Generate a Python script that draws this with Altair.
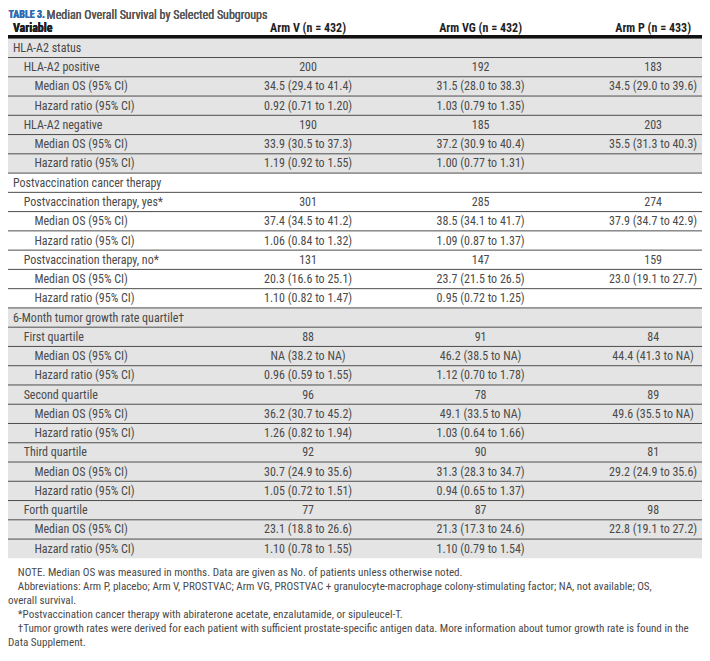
import altair as alt
import pandas as pd

# ---------------- data ----------------
title_label = "TABLE 3."
title_text = "Median Overall Survival by Selected Subgroups"

header_variable = "Variable"
arm_keys = ["V", "VG", "P"]
arm_headers = ["Arm V (n = 432)", "Arm VG (n = 432)", "Arm P (n = 433)"]

variables = [
    "HLA-A2 status",
    "HLA-A2 positive", "Median OS (95% CI)", "Hazard ratio (95% CI)",
    "HLA-A2 negative", "Median OS (95% CI)", "Hazard ratio (95% CI)",
    "Postvaccination cancer therapy",
    "Postvaccination therapy, yes*", "Median OS (95% CI)", "Hazard ratio (95% CI)",
    "Postvaccination therapy, no*", "Median OS (95% CI)", "Hazard ratio (95% CI)",
    "6-Month tumor growth rate quartile\u2020",
    "First quartile", "Median OS (95% CI)", "Hazard ratio (95% CI)",
    "Second quartile", "Median OS (95% CI)", "Hazard ratio (95% CI)",
    "Third quartile", "Median OS (95% CI)", "Hazard ratio (95% CI)",
    "Forth quartile", "Median OS (95% CI)", "Hazard ratio (95% CI)",
]
levels = [0, 1, 2, 2, 1, 2, 2,
          0, 1, 2, 2, 1, 2, 2,
          0, 1, 2, 2, 1, 2, 2, 1, 2, 2, 1, 2, 2]
shades = ["gray"] * 7 + ["white"] * 7 + ["gray"] * 13

arm_v = ["", "200", "34.5 (29.4 to 41.4)", "0.92 (0.71 to 1.20)",
         "190", "33.9 (30.5 to 37.3)", "1.19 (0.92 to 1.55)",
         "", "301", "37.4 (34.5 to 41.2)", "1.06 (0.84 to 1.32)",
         "131", "20.3 (16.6 to 25.1)", "1.10 (0.82 to 1.47)",
         "", "88", "NA (38.2 to NA)", "0.96 (0.59 to 1.55)",
         "96", "36.2 (30.7 to 45.2)", "1.26 (0.82 to 1.94)",
         "92", "30.7 (24.9 to 35.6)", "1.05 (0.72 to 1.51)",
         "77", "23.1 (18.8 to 26.6)", "1.10 (0.78 to 1.55)"]
arm_vg = ["", "192", "31.5 (28.0 to 38.3)", "1.03 (0.79 to 1.35)",
          "185", "37.2 (30.9 to 40.4)", "1.00 (0.77 to 1.31)",
          "", "285", "38.5 (34.1 to 41.7)", "1.09 (0.87 to 1.37)",
          "147", "23.7 (21.5 to 26.5)", "0.95 (0.72 to 1.25)",
          "", "91", "46.2 (38.5 to NA)", "1.12 (0.70 to 1.78)",
          "78", "49.1 (33.5 to NA)", "1.03 (0.64 to 1.66)",
          "90", "31.3 (28.3 to 34.7)", "0.94 (0.65 to 1.37)",
          "87", "21.3 (17.3 to 24.6)", "1.10 (0.79 to 1.54)"]
arm_p = ["", "183", "34.5 (29.0 to 39.6)", "",
         "203", "35.5 (31.3 to 40.3)", "",
         "", "274", "37.9 (34.7 to 42.9)", "",
         "159", "23.0 (19.1 to 27.7)", "",
         "", "84", "44.4 (41.3 to NA)", "",
         "89", "49.6 (35.5 to NA)", "",
         "81", "29.2 (24.9 to 35.6)", "",
         "98", "22.8 (19.1 to 27.2)", ""]

footnote_lines = [
    "NOTE. Median OS was measured in months. Data are given as No. of patients unless otherwise noted.",
    "Abbreviations: Arm P, placebo; Arm V, PROSTVAC; Arm VG, PROSTVAC + granulocyte-macrophage colony-stimulating factor; NA, not available; OS,",
    "overall survival.",
    "*Postvaccination cancer therapy with abiraterone acetate, enzalutamide, or sipuleucel-T.",
    "\u2020Tumor growth rates were derived for each patient with sufficient prostate-specific antigen data. More information about tumor growth rate is found in the",
    "Data Supplement.",
]
footnote_first = [1, 1, 0, 1, 1, 0]

# ---------------- tables ----------------
rows = pd.DataFrame({
    "row": list(range(len(variables))),
    "variable": variables,
    "level": levels,
    "shade": shades,
    "V": arm_v,
    "VG": arm_vg,
    "P": arm_p,
})
cells = rows.melt(id_vars=["row"], value_vars=arm_keys, var_name="arm", value_name="text")
heads = pd.DataFrame({"arm": arm_keys, "text": arm_headers})
notes = pd.DataFrame({"i": list(range(len(footnote_lines))), "text": footnote_lines,
                      "first": footnote_first})

# ---------------- layout ----------------
W, H = 694, 645
SX, SY = W / 710, H / 661
FONT = "Liberation Sans Narrow, Arial Narrow, Roboto Condensed, sans-serif"
FS = 12
TXT = "#4a4a4a"
HEAD = "#1f1f1f"
n_rows = len(variables)
row_h = 19.74

yscale = alt.Scale(domain=[0, n_rows], range=[31 * SY, (31 + n_rows * row_h) * SY])
xarm = alt.Scale(type="point", domain=arm_keys, range=[307 * SX, 660 * SX], padding=0)
xlev = alt.Scale(domain=[0, 2], range=[5 * SX, 27 * SX])

base = alt.Chart(rows)

bg = base.transform_calculate(row2="datum.row + 1").mark_rect(strokeWidth=0).encode(
    x=alt.value(0), x2=alt.value(W),
    y=alt.Y("row:Q", scale=yscale, axis=None), y2="row2:Q",
    color=alt.Color("shade:N", scale=alt.Scale(domain=["gray", "white"],
                                               range=["#e4e4e4", "#ffffff"]), legend=None),
)

seps = base.transform_filter("datum.row > 0").mark_rule(color="#4d4d4d", strokeWidth=1).encode(
    y=alt.Y("row:Q", scale=yscale, axis=None), x=alt.value(0), x2=alt.value(W),
)

thick = alt.Chart(heads).mark_rule(color="#111111", strokeWidth=3).encode(
    y=alt.value(29.5 * SY), x=alt.value(0), x2=alt.value(W),
)

labels = base.transform_calculate(yc="datum.row + 0.5").mark_text(
    align="left", baseline="middle", font=FONT, fontSize=FS, color=TXT
).encode(
    x=alt.X("level:Q", scale=xlev, axis=None),
    y=alt.Y("yc:Q", scale=yscale, axis=None),
    text="variable:N",
)

values = alt.Chart(cells).transform_calculate(yc="datum.row + 0.5").mark_text(
    align="center", baseline="middle", font=FONT, fontSize=FS, color=TXT
).encode(
    x=alt.X("arm:N", scale=xarm, axis=None),
    y=alt.Y("yc:Q", scale=yscale, axis=None),
    text="text:N",
)

head_arms = alt.Chart(heads).mark_text(
    align="center", baseline="middle", font=FONT, fontSize=FS, fontWeight="bold", color=HEAD
).encode(
    x=alt.X("arm:N", scale=xarm, axis=None),
    y=alt.value(20 * SY),
    text="text:N",
)

head_var = alt.Chart(heads).mark_text(
    align="left", baseline="middle", font=FONT, fontSize=FS, fontWeight="bold", color=HEAD,
    text=header_variable
).encode(x=alt.value(5 * SX), y=alt.value(20 * SY))

t1 = alt.Chart(heads).mark_text(
    align="left", baseline="middle", font=FONT, fontSize=10, fontWeight="bold", color="#2f6db3",
    text=title_label
).encode(x=alt.value(0.5), y=alt.value(6.5))

t2 = alt.Chart(heads).mark_text(
    align="left", baseline="middle", font=FONT, fontSize=12, color="#5a5a5a",
    text=title_text
).encode(x=alt.value(39.5 * SX), y=alt.value(6.5))

foot = alt.Chart(notes).mark_text(
    align="left", baseline="middle", font=FONT, fontSize=11.1, color=TXT
).encode(
    x=alt.X("first:Q", scale=alt.Scale(domain=[0, 1], range=[0, 10 * SX]), axis=None),
    y=alt.Y("i:Q", scale=alt.Scale(domain=[0, len(footnote_lines) - 1],
                                   range=[579 * SY, 651 * SY]), axis=None),
    text="text:N",
)

chart = alt.layer(bg, seps, thick, labels, values, head_arms, head_var, t1, t2, foot).resolve_scale(
    x="independent", y="independent", color="independent"
).properties(
    width=W, height=H, autosize=alt.AutoSizeParams(type="none"), padding=0
).configure_view(stroke=None)

chart.save("out.html", embed_options={"renderer": "svg", "actions": False})
